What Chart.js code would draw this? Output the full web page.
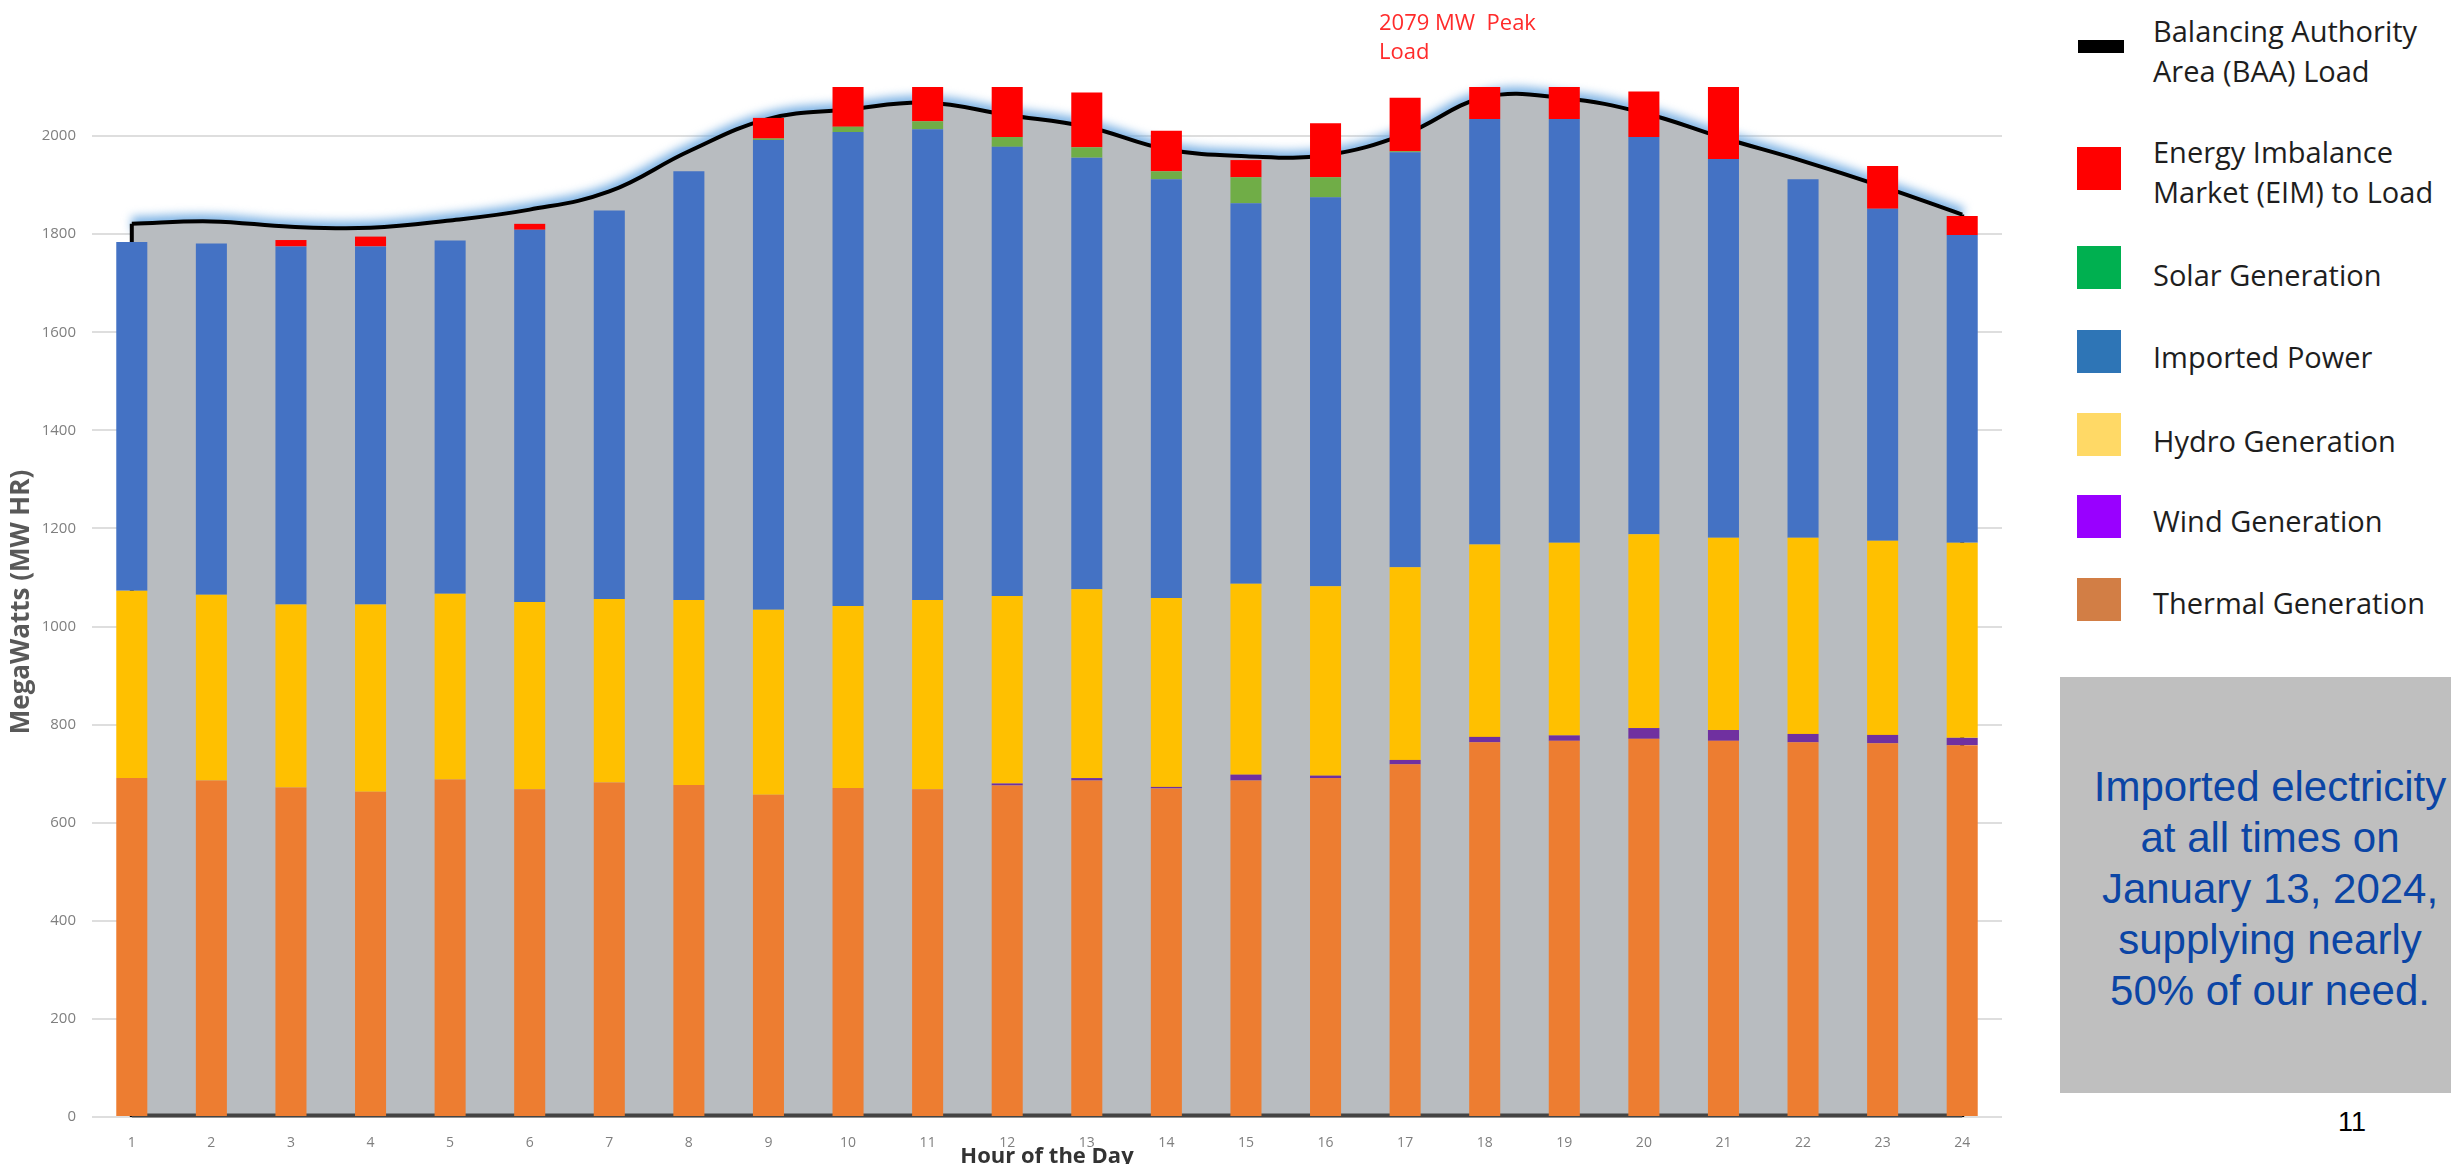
<!DOCTYPE html>
<html>
<head>
<meta charset="utf-8">
<title>BAA Load by Hour</title>
<script src="https://cdn.jsdelivr.net/npm/chart.js@4.4.1/dist/chart.umd.min.js"></script>
<style>
  body { margin: 0; width: 2451px; height: 1164px; overflow: hidden; background: #fff; position: relative; font-family: "Open Sans", sans-serif; }
  #chart { position: absolute; left: 0; top: 0; }
  .peak { position: absolute; left: 1379px; top: 7px; color: #ff2b2b; font-size: 22px; line-height: 29px; white-space: pre; }
  .sw { position: absolute; left: 2077px; width: 44px; height: 43px; }
  .lbl { position: absolute; left: 2153px; font-size: 29px; line-height: 40px; color: #1e1e1e; white-space: nowrap; }
  .box { position: absolute; left: 2060px; top: 677px; width: 391px; height: 416px; background: #bfbfbf; }
  .note { position: absolute; left: 2060px; top: 761px; width: 420px; text-align: center; font-family: "Liberation Sans", Arial, sans-serif; font-size: 42px; line-height: 51px; color: #0b45a5; white-space: nowrap; }
  .page { position: absolute; left: 2322px; top: 1106px; width: 60px; text-align: center; font-family: "Liberation Sans", Arial, sans-serif; font-size: 27px; line-height: 32px; color: #000; }
</style>
</head>
<body>
<canvas id="chart" width="2040" height="1170"></canvas>

<div class="peak">2079 MW  Peak
Load</div>

<div class="sw" style="left:2078px; top:40px; width:46px; height:13px; background:#000;"></div>
<div class="lbl" style="top:11px;">Balancing Authority<br>Area (BAA) Load</div>
<div class="sw" style="top:147px; background:#ff0000;"></div>
<div class="lbl" style="top:132px;">Energy Imbalance<br>Market (EIM) to Load</div>
<div class="sw" style="top:246px; background:#00b050;"></div>
<div class="lbl" style="top:255px;">Solar Generation</div>
<div class="sw" style="top:330px; background:#2e75b6;"></div>
<div class="lbl" style="top:337px;">Imported Power</div>
<div class="sw" style="top:413px; background:#ffd966;"></div>
<div class="lbl" style="top:421px;">Hydro Generation</div>
<div class="sw" style="top:495px; background:#9900ff;"></div>
<div class="lbl" style="top:501px;">Wind Generation</div>
<div class="sw" style="top:578px; background:#d27e45;"></div>
<div class="lbl" style="top:583px;">Thermal Generation</div>

<div class="box"></div>
<div class="note">Imported electricity<br>at all times on<br>January 13, 2024,<br>supplying nearly<br>50% of our need.</div>
<div class="page">11</div>

<script>
const hours = ['1','2','3','4','5','6','7','8','9','10','11','12','13','14','15','16','17','18','19','20','21','22','23','24'];

// MW per hour, stacked bottom to top
const thermal  = [691,686,672,663,688,668,682,677,657,671,668,676,686,670,686,691,719,764,767,771,767,764,762,758];
const wind     = [0,0,0,0,0,0,0,0,0,0,0,4,5,3,12,5,9,11,11,22,22,17,17,15];
const hydro    = [382,379,373,382,379,382,374,377,377,371,386,382,385,385,389,386,393,392,393,395,392,400,396,398];
const imported = [711,716,730,730,720,759,792,874,958,966,960,916,880,854,776,793,846,868,864,810,772,731,677,627];
const solar    = [0,0,0,0,0,0,0,0,3,11,16,20,21,16,53,41,2,0,0,0,0,0,0,0];
const eim      = [0,0,13,20,0,12,0,0,42,90,75,106,112,83,35,110,109,70,70,93,150,0,87,39];
const baaLoad  = [1821,1826,1815,1813,1828,1850,1887,1969,2035,2054,2068,2043,2019,1973,1959,1961,2004,2079,2077,2047,1996,1949,1897,1840];

const yTicks = [0,200,400,600,800,1000,1200,1400,1600,1800,2000];

// soft blue halo behind the load line
const glowPlugin = {
  id: 'glow',
  beforeDatasetDraw(chart, args) {
    if (chart.data.datasets[args.index].glow) {
      chart.ctx.save();
      chart.ctx.filter = 'blur(5px)';
    }
  },
  afterDatasetDraw(chart, args) {
    if (chart.data.datasets[args.index].glow) chart.ctx.restore();
  }
};

// sides and bottom of the load area
const outlinePlugin = {
  id: 'outline',
  afterDatasetDraw(chart, args) {
    if (!chart.data.datasets[args.index].outline) return;
    const pts = args.meta.data;
    const first = pts[0], last = pts[pts.length - 1];
    const base = chart.scales.y.getPixelForValue(0);
    const c = chart.ctx;
    c.save();
    c.strokeStyle = '#000';
    c.lineWidth = 4;
    c.beginPath();
    c.moveTo(first.x, first.y); c.lineTo(first.x, base);
    c.moveTo(last.x, last.y); c.lineTo(last.x, base);
    c.stroke();
    c.strokeStyle = '#444';
    c.beginPath();
    c.moveTo(first.x, base - 1.5); c.lineTo(last.x, base - 1.5);
    c.stroke();
    c.restore();
  }
};

function barSet(label, data, color) {
  return { label: label, data: data, backgroundColor: color, stack: 'gen', order: 1, clip: 0 };
}

const ctx = document.getElementById('chart').getContext('2d');

new Chart(ctx, {
  type: 'bar',
  data: {
    labels: hours,
    datasets: [
      { type: 'line', label: 'glow', data: baaLoad, glow: true, borderColor: 'rgba(110,170,225,0.9)', borderWidth: 14,
        pointRadius: 0, fill: false, tension: 0.4, stack: 'glow', order: 3, clip: false },
      { type: 'line', label: 'Balancing Authority Area (BAA) Load', data: baaLoad, outline: true, borderColor: '#000', borderWidth: 4,
        backgroundColor: '#b8bcc0', fill: 'origin', pointRadius: 0, tension: 0.4, stack: 'load', order: 2 },
      barSet('Thermal Generation', thermal, '#ed7d31'),
      barSet('Wind Generation', wind, '#7030a0'),
      barSet('Hydro Generation', hydro, '#ffc000'),
      barSet('Imported Power', imported, '#4472c4'),
      barSet('Solar Generation', solar, '#70ad47'),
      barSet('Energy Imbalance Market (EIM) to Load', eim, '#ff0000')
    ]
  },
  options: {
    responsive: false,
    animation: false,
    layout: { padding: { top: 87, right: 38, left: 0, bottom: 0 } },
    datasets: { bar: { categoryPercentage: 1, barPercentage: 0.39, borderWidth: 0 } },
    plugins: { legend: { display: false }, tooltip: { enabled: false } },
    scales: {
      x: {
        stacked: true,
        grid: { display: false },
        border: { display: false },
        ticks: { color: '#7f7f7f', font: { family: 'Open Sans', size: 14 }, padding: 10, maxRotation: 0 },
        title: { display: true, text: 'Hour of the Day', color: '#333', font: { family: 'Open Sans', size: 22, weight: 'bold' }, padding: { top: 0, bottom: 0 } },
        afterFit: s => { s.height = 53; }
      },
      y: {
        stacked: true,
        min: 0,
        max: 2100,
        afterBuildTicks: s => { s.ticks = yTicks.map(v => ({ value: v })); },
        ticks: { color: '#7f7f7f', font: { family: 'Open Sans', size: 15 }, padding: 16, callback: v => String(v) },
        grid: { color: '#dedede', lineWidth: 2, drawTicks: false },
        border: { display: false },
        title: { display: true, text: 'MegaWatts (MW HR)', color: '#595959', font: { family: 'Open Sans', size: 26, weight: 'bold' }, padding: { top: 6, bottom: 0 } },
        afterFit: s => { s.width = 92; }
      }
    }
  },
  plugins: [glowPlugin, outlinePlugin]
});
</script>
</body>
</html>
